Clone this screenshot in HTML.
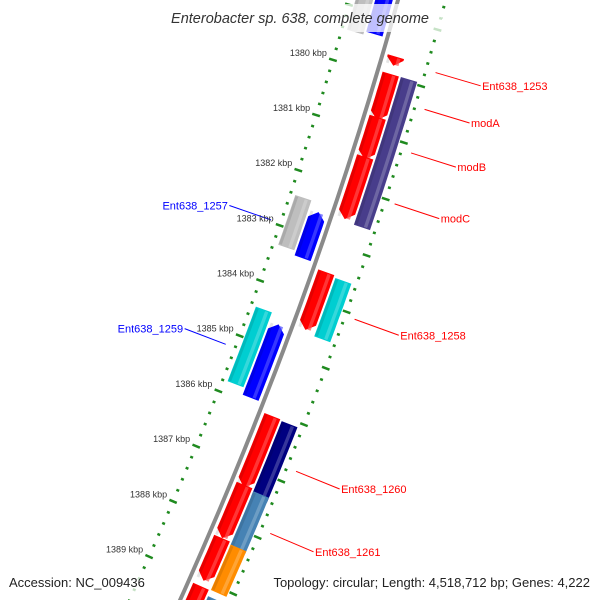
<!DOCTYPE html>
<html><head><meta charset="utf-8"><style>
html,body{margin:0;padding:0;background:#fff;width:600px;height:600px;overflow:hidden;}
svg{display:block;font-family:"Liberation Sans","DejaVu Sans",sans-serif;}
</style></head><body>
<svg id="map" width="600" height="600" viewBox="0 0 600 600" xmlns="http://www.w3.org/2000/svg" overflow="hidden">
<g id="ring"></g>
<path id="backbone" fill="none" stroke="#8a8a8a" stroke-width="4"/>
<g id="genes"></g>
<g id="labels"></g>
<g id="ticklabels"></g>
<rect x="158" y="4" width="284" height="28" fill="#fff" opacity="0.75"/>
<text x="300" y="23" text-anchor="middle" font-size="14.5" font-style="italic" fill="#333">Enterobacter sp. 638, complete genome</text>
<rect x="4" y="570" width="150" height="22" fill="#fff" opacity="0.75"/>
<text x="9" y="587" font-size="13" fill="#222">Accession: NC_009436</text>
<rect x="256" y="570" width="340" height="22" fill="#fff" opacity="0.75"/>
<text x="590" y="587" text-anchor="end" font-size="13" fill="#222">Topology: circular; Length: 4,518,712 bp; Genes: 4,222</text>
</svg>
<script>
const geneStarts = [1379.64, 1379.95, 1380.72, 1381.43, 1379.95, 1383.49, 1383.53, 1386.06, 1386.08, 1387.29, 1387.33, 1388.24, 1388.28, 1389.10, 1389.20, 1378.30, 1378.30, 1382.42, 1382.57, 1384.44, 1384.59];
const geneEnds   = [1379.80, 1380.77, 1381.47, 1382.54, 1382.58, 1384.52, 1384.57, 1387.33, 1387.42, 1388.24, 1388.33, 1389.00, 1389.09, 1390.20, 1390.20, 1379.43, 1379.37, 1383.32, 1383.40, 1385.79, 1385.91];
const geneLanes  = [1, 1, 1, 1, 2, 1, 2, 1, 2, 1, 2, 1, 2, 1, 2, -2, -1, -2, -1, -2, -1];
const geneColors = ["#ff0000","#ff0000","#ff0000","#ff0000","#483d8b","#ff0000","#00ced1","#ff0000","#000080","#ff0000","#4682b4","#ff0000","#ff8c00","#ff0000","#4682b4","#bebebe","#0000ff","#bebebe","#0000ff","#00ced1","#0000ff"];
const geneArrows = ["fwd","fwd","fwd","fwd","none","fwd","none","fwd","none","fwd","none","fwd","none","fwd","none","none","none","none","rev","none","rev"];
const labelNames = ["Ent638_1253","modA","modB","modC","Ent638_1258","Ent638_1260","Ent638_1261","Ent638_1257","Ent638_1259"];
const labelPos   = [1379.71, 1380.36, 1381.13, 1382.03, 1384.07, 1386.76, 1387.86, 1382.96, 1385.22];
const labelSide  = [1, 1, 1, 1, 1, 1, 1, -1, -1];
const labelColors= ["#ff0000","#ff0000","#ff0000","#ff0000","#ff0000","#ff0000","#ff0000","#0000ff","#0000ff"];
const tickKbp    = [1380, 1381, 1382, 1383, 1384, 1385, 1386, 1387, 1388, 1389];

const NS = "http://www.w3.org/2000/svg";
function yb(k){ return 73 + 55.8*(k-1380); }
function xb(y){ return 398 - 0.2768*y - 0.000144*y*y; }
function pt(y, d){
  const dx = -0.2768 - 0.000288*y;
  const n = Math.sqrt(dx*dx+1);
  return [xb(y) + d/n, y - dx*d/n];
}
const laneD = {1:[5,22], 2:[24,41], "-1":[-22,-5], "-2":[-41,-24]};

let bp = [];
for (let y=-20; y<=620; y+=10) bp.push(pt(y,0).map(v=>v.toFixed(1)).join(","));
document.getElementById("backbone").setAttribute("d","M"+bp.join(" L"));

function el(tag, attrs, parent){
  const e = document.createElementNS(NS, tag);
  for (const k in attrs) e.setAttribute(k, attrs[k]);
  parent.appendChild(e); return e;
}
function lighten(c, f){
  const r=parseInt(c.substr(1,2),16), g=parseInt(c.substr(3,2),16), b=parseInt(c.substr(5,2),16);
  const m=v=>Math.round(v+(255-v)*f);
  return "rgb("+m(r)+","+m(g)+","+m(b)+")";
}
function band(y0, y1, d0, d1, arrow){
  const L=[], R=[], steps=8, head=7;
  let a=y0, b=y1;
  if (arrow==="fwd") b = Math.max(y0, y1-head);
  if (arrow==="rev") a = Math.min(y1, y0+head);
  for (let i=0;i<=steps;i++){ const y=a+(b-a)*i/steps; L.push(pt(y,d0)); R.push(pt(y,d1)); }
  let poly = [];
  if (arrow==="rev") poly.push(pt(y0,(d0+d1)/2));
  poly = poly.concat(L);
  if (arrow==="fwd") poly.push(pt(y1,(d0+d1)/2));
  poly = poly.concat(R.reverse());
  return poly.map(p=>p[0].toFixed(1)+","+p[1].toFixed(1)).join(" ");
}

const ring = document.getElementById("ring");
for (const side of [-1,1]){
  for (let k=1378; k<=1391.01; k+=0.2){
    const y=yb(k);
    const major = Math.abs(k-Math.round(k))<0.01;
    const p0 = pt(y, side*(major?42:44.5)), p1 = pt(y, side*(major?50:47.5));
    const t = el("line",{x1:p0[0],y1:p0[1],x2:p1[0],y2:p1[1],stroke:"#1f8a1f","stroke-width":major?2.5:2.5},ring);
    
    
  }
}
const tl = document.getElementById("ticklabels");
tickKbp.forEach(k=>{
  const p = pt(yb(k), -46);
  const t = el("text",{x:(p[0]-6).toFixed(1), y:(p[1]-4).toFixed(1), "text-anchor":"end","font-size":"9",fill:"#333"},tl);
  t.textContent = k+" kbp";
  
  
});

const gg = document.getElementById("genes");
geneStarts.forEach((s,i)=>{
  const d = laneD[geneLanes[i]];
  const y0=yb(s), y1=yb(geneEnds[i]);
  const g = el("g",{},gg);
  
  
  el("polygon",{points:band(y0,y1,d[0],d[1],geneArrows[i]),fill:geneColors[i]},g);
  const w=d[1]-d[0];
  el("polygon",{points:band(y0+1,y1-1,d[0]+w*0.6,d[0]+w*0.8,"none"),fill:lighten(geneColors[i],0.3),opacity:0.7},g);
  el("polygon",{points:band(y0+1,y1-1,d[0]+0.5,d[0]+w*0.2,"none"),fill:"#000",opacity:0.1},g);
});

const lg = document.getElementById("labels");
labelNames.forEach((n,i)=>{
  const y=yb(labelPos[i]), s=labelSide[i];
  const p0=pt(y,s*56), p1=pt(y,s*(s>0?103:100));
  const g = el("g",{},lg);
  
  
  el("line",{x1:p0[0],y1:p0[1],x2:p1[0],y2:p1[1],stroke:labelColors[i],"stroke-width":1},g);
  const t = el("text",{x:(p1[0]+s*1.5).toFixed(1),y:(p1[1]+4).toFixed(1),"text-anchor":s>0?"start":"end","font-size":"11",fill:labelColors[i]},g);
  t.textContent=n;
});
</script>
</body></html>
